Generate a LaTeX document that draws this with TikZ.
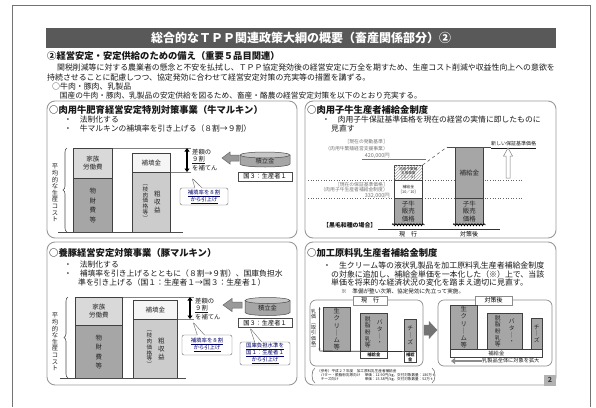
\documentclass[tikz,border=0pt]{standalone}
\usepackage{fontspec}
\setmainfont{Noto Sans CJK JP}
\usetikzlibrary{positioning, arrows.meta, shapes.callouts, decorations.pathreplacing, decorations.pathmorphing, patterns}
\newcommand{\fsz}[2]{\fontsize{#1}{#2}\selectfont}

\begin{document}
\begin{tikzpicture}[x=1pt, y=-1pt]
        \tikzstyle{panel} = [draw=black!40, line width=0.9pt, rounded corners=8pt]
        \tikzstyle{txt} = [anchor=west, inner sep=0pt, text=black!90]
        \tikzstyle{lbl} = [anchor=east, inner sep=0pt, text=black!55, font=\fsz{4.8}{5.5}]
        \tikzstyle{bar} = [draw=black!75, line width=0.7pt, anchor=north west, inner sep=0pt, align=center, text=black!85]
        \tikzstyle{vtxt} = [inner sep=0pt, align=center, text=black!85]
        \tikzstyle{tag} = [draw=black!70, line width=0.5pt, fill=white, inner sep=0pt, align=center]
        \tikzstyle{note} = [rectangle callout, draw=black!60, fill=white, rounded corners=2pt, align=center, inner sep=1pt, text=blue!40!black, font=\fsz{5.4}{7}]
        \tikzstyle{darrow} = [line width=1.3pt, {Triangle[length=3.5pt,width=5pt]}-{Triangle[length=3.5pt,width=5pt]}]
        \tikzstyle{blockarrow} = [draw=black!60, fill=black!40, line width=0.5pt, line join=miter]
        \tikzstyle{brace} = [decorate, decoration={brace, amplitude=4pt}, line width=0.6pt, black!70]
        \tikzstyle{wave} = [decorate, decoration={snake, amplitude=1.1pt, segment length=3pt}, line width=0.6pt]

        \useasboundingbox (0,0) rectangle (596,407);
        \fill[white] (0,0) rectangle (596,407);
        \draw[black!55, line width=1pt] (12,407) -- (12,5) -- (590,5) -- (590,407);

        \node (title) [fill=black!65, minimum width=510, minimum height=20, inner sep=0pt, text=white, font=\bfseries\fsz{12}{14}] at (301,38) {総合的なＴＰＰ関連政策大綱の概要（畜産関係部分）②};
        \node (head) [txt, font=\bfseries\fsz{9.3}{11}] at (47,56) {②経営安定・安定供給のための備え（重要５品目関連）};
        \node (intro1) [txt, font=\fsz{7.9}{9}] at (49,67) {　関税削減等に対する農業者の懸念と不安を払拭し、ＴＰＰ協定発効後の経営安定に万全を期すため、生産コスト削減や収益性向上への意欲を};
        \node (intro2) [txt, font=\fsz{7.9}{9}] at (47,77) {持続させることに配慮しつつ、協定発効に合わせて経営安定対策の充実等の措置を講ずる。};
        \node (intro3) [txt, font=\fsz{7.9}{9}] at (52,86.5) {○牛肉・豚肉、乳製品};
        \node (intro4) [txt, font=\fsz{7.7}{9}] at (52,95.5) {　国産の牛肉・豚肉、乳製品の安定供給を図るため、畜産・酪農の経営安定対策を以下のとおり充実する。};

        \draw[panel] (47,101) rectangle (297,238);
        \draw[panel] (305,101) rectangle (556,238);
        \draw[panel] (47,242) rectangle (297,385);
        \draw[panel] (305,242) rectangle (556,385);

        \node (h1) [txt, font=\bfseries\fsz{9.3}{11}] at (49,110) {○肉用牛肥育経営安定特別対策事業（牛マルキン）};
        \node (h1a) [txt, font=\fsz{7.8}{9}] at (64,120) {・　法制化する};
        \node (h1b) [txt, font=\fsz{7.8}{9}] at (64,129) {・　牛マルキンの補填率を引き上げる（８割→９割）};

        \node (m1cost) [bar, fill=black!15, minimum width=39, minimum height=30, font=\fsz{6.5}{8}] at (73,148) {家族\\労働費};
        \node (m1mat) [bar, fill=black!35, minimum width=39, minimum height=54, font=\fsz{6.5}{9.5}] at (73,178) {物\\財\\費\\等};
        \node (m1fill) [bar, fill=black!4, minimum width=38, minimum height=19, font=\fsz{6.5}{8}] at (132,153) {補填金};
        \node (m1inc) [bar, fill=black!20, minimum width=38, minimum height=60] at (132,172) {};
        \node (m1incA) [vtxt, font=\fsz{5.6}{5.8}] at ([xshift=-6]m1inc.center) {︵\\枝\\肉\\価\\格\\等\\︶};
        \node (m1incB) [vtxt, font=\fsz{6.5}{8}] at ([xshift=6]m1inc.center) {粗\\収\\益};
        \draw[black!70, line width=0.8pt] (58,232) -- (183,232);
        \draw[black!50, line width=0.5pt] (m1cost.north east) -- (191,148);
        \draw[black!50, line width=0.5pt] (m1inc.north east) -- (191,172);
        \coordinate (d1a) at (187,148);
        \coordinate (d1b) at (187,172);
        \draw[darrow] (d1a) -- (d1b);
        \node (gap1) [txt, align=left, font=\fsz{6.3}{7.5}] at (192,160) {差額の\\\underline{９割}\\を補てん};
        \fill[black!35] (240,155) rectangle (290,164);
        \fill[black!35] (265,164) ellipse [x radius=25, y radius=3];
        \draw[black!70, line width=0.5pt] (240,155) -- (240,164) arc[start angle=180, end angle=0, x radius=25, y radius=3] -- (290,155);
        \draw[black!70, line width=0.5pt, fill=black!22] (265,155) ellipse [x radius=25, y radius=3];
        \node (fund1) [inner sep=0pt, font=\fsz{6.3}{7}, text=black!85] at (265,161.5) {積立金};
        \filldraw[blockarrow] (239,155) -- (230,155) -- (230,152) -- (222,158) -- (230,164) -- (230,161) -- (239,161) -- cycle;
        \node (share1) [tag, minimum width=54, minimum height=9, font=\fsz{6.2}{7}] at (265,176.5) {国３：生産者１};
        \coordinate (ptr1) at (192,178);
        \node (note1) [note, minimum width=48, minimum height=17, callout absolute pointer={(ptr1)}] at (204,196.5) {\underline{補填率を８割}\\\underline{から引上げ}};
        \draw[brace] (67,232) -- (67,148);
        \node (avg1) [vtxt, font=\fsz{6.3}{6.6}] at (55,193) {平\\均\\的\\な\\生\\産\\コ\\ス\\ト};

        \node (h3) [txt, font=\bfseries\fsz{9.3}{11}] at (49,253) {○養豚経営安定対策事業（豚マルキン）};
        \node (h3a) [txt, font=\fsz{7.8}{9}] at (64,265) {・　法制化する};
        \node (h3b) [txt, font=\fsz{7.8}{9}] at (64,274) {・　補填率を引き上げるとともに（８割→９割）、国庫負担水};
        \node (h3c) [txt, font=\fsz{7.8}{9}] at (78,283) {準を引き上げる（国１：生産者１→国３：生産者１）};

        \node (m3cost) [bar, fill=black!15, minimum width=47, minimum height=28, font=\fsz{6.5}{8}] at (75,297) {家族\\労働費};
        \node (m3mat) [bar, fill=black!35, minimum width=47, minimum height=53, font=\fsz{6.5}{9.5}] at (75,325) {物\\財\\費\\等};
        \node (m3fill) [bar, fill=black!4, minimum width=44, minimum height=19, font=\fsz{6.5}{8}] at (133,300) {補填金};
        \node (m3inc) [bar, fill=black!20, minimum width=44, minimum height=59] at (133,319) {};
        \node (m3incA) [vtxt, font=\fsz{5.6}{5.8}] at ([xshift=-6]m3inc.center) {︵\\枝\\肉\\価\\格\\等\\︶};
        \node (m3incB) [vtxt, font=\fsz{6.5}{8}] at ([xshift=6]m3inc.center) {粗\\収\\益};
        \draw[black!70, line width=0.8pt] (60,378) -- (186,378);
        \draw[black!50, line width=0.5pt] (m3cost.north east) -- (194,297);
        \draw[black!50, line width=0.5pt] (m3inc.north east) -- (194,319);
        \coordinate (d3a) at (190,297);
        \coordinate (d3b) at (190,319);
        \draw[darrow] (d3a) -- (d3b);
        \node (gap3) [txt, align=left, font=\fsz{6.3}{7.5}] at (195,309) {差額の\\\underline{９割}\\を補てん};
        \fill[black!35] (245,300.5) rectangle (290,312.5);
        \fill[black!35] (267.5,312.5) ellipse [x radius=22.5, y radius=3];
        \draw[black!70, line width=0.5pt] (245,300.5) -- (245,312.5) arc[start angle=180, end angle=0, x radius=22.5, y radius=3] -- (290,300.5);
        \draw[black!70, line width=0.5pt, fill=black!22] (267.5,300.5) ellipse [x radius=22.5, y radius=3];
        \node (fund3) [inner sep=0pt, font=\fsz{6.3}{7}, text=black!85] at (267.5,308) {積立金};
        \filldraw[blockarrow] (242,302) -- (232,302) -- (232,298.5) -- (223,305) -- (232,311.5) -- (232,308) -- (242,308) -- cycle;
        \node (share3) [tag, minimum width=54, minimum height=9, font=\fsz{6.2}{7}] at (265,323) {国３：生産者１};
        \coordinate (ptr3a) at (193,322);
        \node (note3a) [note, minimum width=50, minimum height=20, callout absolute pointer={(ptr3a)}] at (207,345) {\underline{補填率を８割}\\\underline{から引上げ}};
        \coordinate (ptr3b) at (250,328);
        \node (note3b) [note, minimum width=50, minimum height=23, callout absolute pointer={(ptr3b)}] at (265,353.5) {\underline{国庫負担水準を}\\\underline{国１：生産者１}\\\underline{から引上げ}};
        \draw[brace] (68,378) -- (68,297);
        \node (avg3) [vtxt, font=\fsz{6.3}{6.6}] at (55,342) {平\\均\\的\\な\\生\\産\\コ\\ス\\ト};

        \node (h2) [txt, font=\bfseries\fsz{9.3}{11}] at (307,110) {○肉用子牛生産者補給金制度};
        \node (h2a) [txt, font=\fsz{7.8}{9}] at (322,120) {・　肉用子牛保証基準価格を現在の経営の実情に即したものに};
        \node (h2b) [txt, font=\fsz{7.8}{9}] at (331,128.5) {見直す};
        \node (trig1) [lbl] at (388,142) {［現在の発動基準］};
        \node (trig2) [lbl] at (388,148.5) {（肉用牛繁殖経営支援事業）};
        \node (trig3) [lbl, font=\fsz{5.4}{6}] at (390,155.5) {420,000円};
        \draw[black!55, line width=0.5pt] (362,159) -- (426,159);
        \node (base1) [lbl] at (388,184.5) {［現在の保証基準価格］};
        \node (base2) [lbl] at (388,190) {（肉用子牛生産者補給金制度）};
        \node (base3) [lbl, font=\fsz{5.4}{6}] at (390,195.5) {332,000円};
        \draw[black!60, dotted, line width=0.6pt] (308,180) -- (522,180);
        \draw[black!60, dotted, line width=0.6pt] (308,198) -- (522,198);
        \node (p2hatch) [bar, fill=white, postaction={pattern=north east lines, pattern color=black!35}, minimum width=28, minimum height=15, font=\fsz{3.6}{4.2}] at (394,165) {肉用牛繁殖\\支援事業\\［３／４］};
        \node (p2sub) [bar, fill=white, minimum width=28, minimum height=18, font=\fsz{3.8}{4.6}] at (394,180) {補給金\\［10／10］};
        \node (p2calf) [bar, fill=black!35, minimum width=28, minimum height=26, font=\fsz{6.5}{7.6}] at (394,198) {子牛\\販売\\価格};
        \node (p2new) [bar, fill=black!35, minimum width=28, minimum height=51, font=\fsz{6.5}{7.6}] at (455,147) {補給金};
        \node (p2calfb) [bar, fill=black!35, minimum width=28, minimum height=26, font=\fsz{6.5}{7.6}] at (455,198) {子牛\\販売\\価格};
        \draw[wave] ([xshift=-2]p2calf.south west) -- ([xshift=2]p2calf.south east);
        \draw[wave] ([xshift=-2]p2calfb.south west) -- ([xshift=2]p2calfb.south east);
        \draw[black!80, line width=0.9pt] (378,229) -- (500,229);
        \node (kuroge) [txt, font=\bfseries\fsz{5.9}{7}] at (323,225) {【黒毛和種の場合】};
        \draw[black!70, line width=0.6pt] ([xshift=-8]p2new.north west) -- ([xshift=7]p2new.north east);
        \draw[black!70, dashed, line width=0.5pt] (p2hatch.north east) -- ([xshift=-8]p2new.north west);
        \node (newbase) [txt, font=\fsz{5}{6}] at (491,145) {\underline{新しい保証基準価格}};
        \filldraw[blockarrow, fill=white, draw=black!50] (506,178) -- (506,156) -- (503.5,156) -- (508,148) -- (512.5,156) -- (510,156) -- (510,178) -- cycle;
        \node (now) [inner sep=0pt, font=\fsz{6}{7}] at (408,234) {現　行};
        \node (after) [inner sep=0pt, font=\fsz{6}{7}] at (469,234) {対策後};

        \node (h4) [txt, font=\bfseries\fsz{9.3}{11}] at (307,253) {○加工原料乳生産者補給金制度};
        \node (h4a) [txt, font=\fsz{7.9}{9}] at (323,265) {・　生クリーム等の液状乳製品を加工原料乳生産者補給金制度};
        \node (h4b) [txt, font=\fsz{7.9}{9}] at (331,274) {の対象に追加し、補給金単価を一本化した（※）上で、当該};
        \node (h4c) [txt, font=\fsz{7.9}{9}] at (331,283) {単価を将来的な経済状況の変化を踏まえ適切に見直す。};
        \node (h4d) [txt, font=\fsz{5.6}{7}] at (341,291.5) {※　準備が整い次第、協定発効に先立って実施。};

        \draw[black!45, line width=0.7pt, rounded corners=6pt] (310,300) rectangle (423,366);
        \draw[black!45, line width=0.7pt, rounded corners=6pt] (438,300) rectangle (552,366);
        \node (tabnow) [tag, draw=black!45, minimum width=34, minimum height=9, font=\fsz{6}{7}] at (370,300.5) {現　行};
        \node (tabnew) [tag, draw=black!45, minimum width=37, minimum height=9, font=\fsz{6}{7}] at (493.5,300.5) {対策後};

        \node (price) [vtxt, font=\fsz{5}{5.3}] at (313.5,330) {乳\\価\\︵\\取\\引\\価\\格\\︶};
        \coordinate (pt) at (319.5,307);
        \coordinate (pb) at (319.5,351);
        \draw[black!70, line width=0.5pt, {Stealth[length=2.5pt]}-{Stealth[length=2.5pt]}] (pt) -- (pb);
        \node (cream1) [bar, fill=black!35, minimum width=27, minimum height=44, font=\fsz{6.3}{7.2}] at (323,307) {生\\ク\\リ\\｜\\ム\\等};
        \node (butter1) [bar, fill=black!35, minimum width=27, minimum height=38] at (360,313) {};
        \node (butter1a) [vtxt, font=\fsz{5.8}{6.6}] at ([xshift=6]butter1.center) {バ\\タ\\｜\\・};
        \node (butter1b) [vtxt, font=\fsz{5.8}{6.6}] at ([xshift=-6]butter1.center) {脱\\脂\\粉\\乳\\等};
        \node (cheese1) [bar, fill=black!35, minimum width=12, minimum height=32, font=\fsz{5.8}{6.6}] at (404,319) {チ\\｜\\ズ};
        \node (sub1) [bar, fill=white, minimum width=27, minimum height=7, font=\bfseries\fsz{4.3}{5}] at (360,351) {補給金};
        \node (sub2) [bar, fill=white, minimum width=12, minimum height=11, font=\bfseries\fsz{4.3}{5}] at (404,351) {補給\\金};
        \draw[black!80, line width=0.7pt] (pb) -- (cheese1.south east);
        \filldraw[blockarrow, fill=black!55, draw=black!55] (424,325) -- (429,325) -- (429,321.5) -- (437,330) -- (429,338.5) -- (429,335) -- (424,335) -- cycle;

        \node (cream2) [bar, fill=black!35, minimum width=27, minimum height=44, font=\fsz{6.3}{7.2}] at (450,305) {生\\ク\\リ\\｜\\ム\\等};
        \node (butter2) [bar, fill=black!35, minimum width=35, minimum height=36] at (487,313) {};
        \node (butter2a) [vtxt, font=\fsz{5.8}{6.6}] at ([xshift=7]butter2.center) {バ\\タ\\｜\\・};
        \node (butter2b) [vtxt, font=\fsz{5.8}{6.6}] at ([xshift=-7]butter2.center) {脱\\脂\\粉\\乳\\等};
        \node (cheese2) [bar, fill=black!35, minimum width=11, minimum height=31, font=\fsz{5.8}{6.6}] at (531,318) {チ\\｜\\ズ};
        \node (sub3) [bar, fill=white, minimum width=92, minimum height=8, font=\fsz{5.3}{6}] at (450,349) {補給金};
        \node (expand) [txt, font=\fsz{5.2}{6}] at (482,361) {乳製品全体に対象を拡大};
        \coordinate (expandtip) at (451,361);
        \draw[line width=2.4pt, black!45, -{Triangle[length=4pt,width=6pt]}] (expand.west) -- (expandtip);

        \draw[black!60, line width=0.5pt] (315,368) .. controls (311,370) and (311,381) .. (315,383);
        \draw[black!60, line width=0.5pt] (432,368) .. controls (436,370) and (436,381) .. (432,383);
        \node (ref) [txt, align=left, font=\fsz{3.6}{4.4}] at (317,375.5) {（参考）平成２７年度　加工原料乳生産者補給金\\
          \hspace{3.6pt}\makebox[44pt][l]{バター・脱脂粉乳等向け}単価：12.90円/kg、交付対象数量：180万ｔ\\
          \hspace{3.6pt}\makebox[44pt][l]{チーズ向け}単価：15.38円/kg、交付対象数量：52万ｔ};

        \node (page) [fill=black!30, minimum width=12, minimum height=11, inner sep=0pt, font=\bfseries\fsz{7}{8}, text=black!75] at (550,380) {2};
    \end{tikzpicture}
\end{document}
